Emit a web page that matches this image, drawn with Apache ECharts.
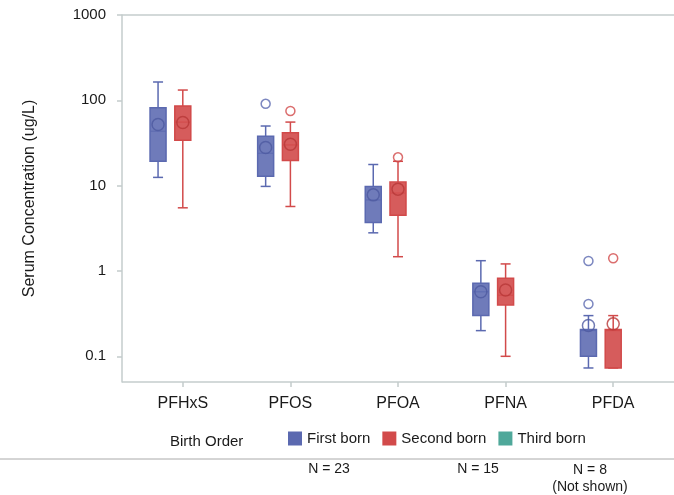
<!DOCTYPE html>
<html><head><meta charset="utf-8">
<script src="https://cdn.jsdelivr.net/npm/echarts@6/dist/echarts.min.js"></script>
<style>body{margin:0}#c{width:674px;height:495px}</style>
</head><body><div id="c"></div>
<script>
var compounds = ['PFHxS', 'PFOS', 'PFOA', 'PFNA', 'PFDA'];
// [min, Q1, median, Q3, max]
var firstBox = [[12.5, 19.3, 43.5, 82, 164], [9.8, 12.9, 24, 38, 50], [2.8, 3.7, 6.8, 9.8, 17.7], [0.2, 0.3, 0.57, 0.72, 1.32], [0.073, 0.1, 0.2, 0.206, 0.3]];
var secondBox = [[5.5, 34, 55.6, 86, 132], [5.7, 19.7, 30, 41.7, 55.6], [1.47, 4.5, 8.2, 11, 19.3], [0.1, 0.4, 0.52, 0.82, 1.21], [0.073, 0.073, 0.2, 0.206, 0.3]];
var firstMean = [52, 28, 7.8, 0.57, 0.23];
var secondMean = [55, 30.5, 9.1, 0.6, 0.24];
var firstOut = [[1, 91], [4, 1.31], [4, 0.41]];
var secondOut = [[1, 75], [2, 21.5], [4, 1.41]];
var groupN = ['N = 23', 'N = 15', 'N = 8\n(Not shown)'];

var blue = '#5b69b0', red = '#d24a4a', green = '#4fa89a';
var axisCol = '#c4cccc';
var off = 0.23;
function pts(arr, shift) { return arr.map(function (v, i) { return [i + shift, v]; }); }
function opts(arr, shift) { return arr.map(function (p) { return [p[0] + shift, p[1]]; }); }
function boxes(arr, shift) { return arr.map(function (b, i) { return [i + shift].concat(b); }); }

function boxRender(fill, stroke) {
  return function (params, api) {
    var x = api.value(0);
    var p = [1, 2, 3, 4, 5].map(function (k) { return api.coord([x, api.value(k)]); });
    var cx = p[0][0], hw = 8, cw = 5;
    var ls = {stroke: stroke, lineWidth: 1.5};
    return {type: 'group', children: [
      {type: 'line', shape: {x1: cx, y1: p[0][1], x2: cx, y2: p[1][1]}, style: ls},
      {type: 'line', shape: {x1: cx, y1: p[3][1], x2: cx, y2: p[4][1]}, style: ls},
      {type: 'line', shape: {x1: cx - cw, y1: p[0][1], x2: cx + cw, y2: p[0][1]}, style: ls},
      {type: 'line', shape: {x1: cx - cw, y1: p[4][1], x2: cx + cw, y2: p[4][1]}, style: ls},
      {type: 'rect', shape: {x: cx - hw, y: p[3][1], width: 2 * hw, height: p[1][1] - p[3][1]},
        style: {fill: fill, stroke: stroke, lineWidth: 1.5}},
      {type: 'line', shape: {x1: cx - hw, y1: p[2][1], x2: cx + hw, y2: p[2][1]}, style: {stroke: stroke, lineWidth: 1}}
    ]};
  };
}

var chart = echarts.init(document.getElementById('c'));
chart.setOption({
  animation: false,
  textStyle: {fontFamily: 'Liberation Sans'},
  grid: {left: 129, right: 7, top: 15, bottom: 113},
  xAxis: [{
    type: 'category', data: compounds,
    axisLine: {show: false}, axisTick: {show: true, alignWithLabel: true, lineStyle: {color: axisCol, width: 1.5}},
    axisLabel: {fontSize: 16, color: '#1a1a1a', margin: 14}
  }, {type: 'value', min: -0.5, max: 4.5, show: false}],
  yAxis: {
    type: 'log', min: 0.05, max: 1000, logBase: 10, offset: 7,
    name: 'Serum Concentration (ug/L)', nameLocation: 'middle', nameGap: 84,
    nameTextStyle: {fontSize: 16, color: '#1a1a1a'},
    axisLine: {show: true, onZero: false, lineStyle: {color: axisCol, width: 1.5}},
    axisTick: {show: true, lineStyle: {color: axisCol, width: 1.5}},
    splitLine: {show: false},
    axisLabel: {fontSize: 15, color: '#1a1a1a', margin: 16, showMinLabel: false,
      formatter: function (v) { var l = Math.log10(v); return Math.abs(l - Math.round(l)) < 1e-6 ? String(v) : ''; }}
  },
  legend: {
    bottom: 44, left: 283, itemWidth: 14, itemHeight: 14, itemGap: 12, icon: 'rect',
    textStyle: {fontSize: 15, color: '#1a1a1a'},
    data: ['First born', 'Second born', 'Third born']
  },
  graphic: [
    {type: 'text', left: 170, bottom: 46, style: {text: 'Birth Order', fill: '#1a1a1a', font: '15px Liberation Sans'}},
    {type: 'line', shape: {x1: 122, y1: 15, x2: 674, y2: 15}, style: {stroke: axisCol, lineWidth: 1.5}},
    {type: 'line', shape: {x1: 122, y1: 382, x2: 674, y2: 382}, style: {stroke: axisCol, lineWidth: 1.5}},
    {type: 'line', shape: {x1: 0, y1: 459, x2: 674, y2: 459}, style: {stroke: '#aaa', lineWidth: 1}},
    {type: 'text', x: 329, y: 462, style: {text: groupN[0], textAlign: 'center', font: '14px Liberation Sans', fill: '#1a1a1a'}},
    {type: 'text', x: 478, y: 462, style: {text: groupN[1], textAlign: 'center', font: '14px Liberation Sans', fill: '#1a1a1a'}},
    {type: 'text', x: 590, y: 462, style: {text: groupN[2], textAlign: 'center', font: '14px Liberation Sans', fill: '#1a1a1a', lineHeight: 17}}
  ],
  series: [
    {name: 'First born', type: 'custom', xAxisIndex: 1, data: boxes(firstBox, -off),
      renderItem: boxRender('rgba(91,105,176,0.88)', blue), itemStyle: {color: blue}, z: 3},
    {name: 'Second born', type: 'custom', xAxisIndex: 1, data: boxes(secondBox, 0),
      renderItem: boxRender('rgba(210,74,74,0.9)', red), itemStyle: {color: red}, z: 3},
    {name: 'Third born', type: 'custom', xAxisIndex: 1, data: [],
      renderItem: boxRender(green, '#2e7f72'), itemStyle: {color: green, borderColor: '#2e7f72'}},
    {type: 'scatter', xAxisIndex: 1, data: pts(firstMean, -off), symbol: 'circle', symbolSize: 12,
      itemStyle: {color: 'transparent', borderColor: '#4d5aa0', borderWidth: 1.5}, z: 5},
    {type: 'scatter', xAxisIndex: 1, data: pts(secondMean, 0), symbol: 'circle', symbolSize: 12,
      itemStyle: {color: 'transparent', borderColor: '#b83838', borderWidth: 1.5}, z: 5},
    {type: 'scatter', xAxisIndex: 1, data: opts(firstOut, -off), symbol: 'circle', symbolSize: 9,
      itemStyle: {color: 'transparent', borderColor: blue, borderWidth: 1.5}, z: 5},
    {type: 'scatter', xAxisIndex: 1, data: opts(secondOut, 0), symbol: 'circle', symbolSize: 9,
      itemStyle: {color: 'transparent', borderColor: red, borderWidth: 1.5}, z: 5}
  ]
});
</script></body></html>
